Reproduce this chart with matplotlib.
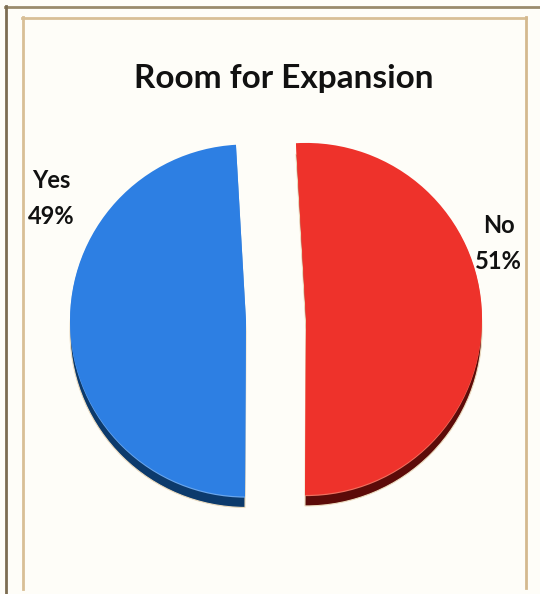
import matplotlib
matplotlib.use("Agg")
import matplotlib.pyplot as plt
from matplotlib.lines import Line2D

plt.rcParams['font.family'] = ['Lato', 'DejaVu Sans']

# slice data, drawn clockwise from the top starting with "No"
labels = ["No", "Yes"]
values = [51, 49]
face_colors = ["#ee322b", "#2d7fe3"]
side_colors = ["#5c0b09", "#0c3a6c"]

W, H = 540, 594
fig = plt.figure(figsize=(W / 100, H / 100), dpi=100)
fig.patch.set_facecolor("#fefdf8")
ax = fig.add_axes([0, 0, 1, 1])
ax.set_facecolor("#fefdf8")


def up(y):
    # pixel rows are counted from the top, the axes from the bottom
    return H - y


# page frames
ax.add_line(Line2D([5, 540], [up(6.5), up(6.5)], color="#9a8b6c", lw=2))
ax.add_line(Line2D([5.5, 5.5], [up(6), 0], color="#7c6d52", lw=2))
ax.add_line(Line2D([22, 526], [up(17.5), up(17.5)], color="#d8bf96", lw=2))
ax.add_line(Line2D([22.7, 22.7], [up(17), up(589)], color="#d8bf96", lw=2))
ax.add_line(Line2D([525.7, 525.7], [up(17), up(588)], color="#d4b98f", lw=2))

cx, cy = 276, up(319.7)
radius = 176
depth = 11
gap = [30, 30]
start = 93.27

# side of the disc: a dark copy pushed down under the face
ax.pie(values, colors=side_colors, startangle=start, counterclock=False,
       radius=radius, center=(cx, cy - depth), explode=gap,
       wedgeprops=dict(edgecolor="#ecdcc0", linewidth=0.8))
# thin light rim between face and side
ax.pie(values, colors=["#f0705f", "#6aa6ec"], startangle=start,
       counterclock=False, radius=radius, center=(cx, cy - 1.2), explode=gap,
       wedgeprops=dict(edgecolor="none"))
ax.pie(values, colors=face_colors, startangle=start, counterclock=False,
       radius=radius, center=(cx, cy), explode=gap,
       wedgeprops=dict(edgecolor="none"))

ax.text(283.5, up(88), "Room for Expansion", ha="center", va="baseline",
        fontsize=24, fontweight="bold", color="#111111")

# category labels with their shares
label_pos = {"Yes": (51, 188), "No": (498.5, 233)}
for name, val in zip(labels, values):
    x, y = label_pos[name]
    ax.text(x, up(y), name, ha="center", va="baseline",
            fontsize=17, fontweight="bold", color="#111111")
    ax.text(x, up(y + 36), f"{val}%", ha="center", va="baseline",
            fontsize=17, fontweight="bold", color="#111111")

ax.set_xlim(0, W)
ax.set_ylim(0, H)
ax.set_aspect("equal")
ax.axis("off")

fig.savefig("out.png", dpi=100, facecolor=fig.get_facecolor())
